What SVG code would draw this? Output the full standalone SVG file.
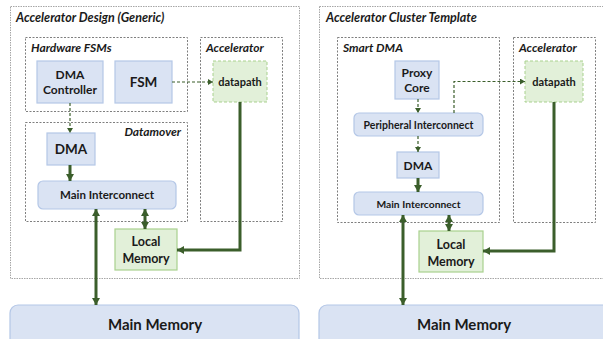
<svg xmlns="http://www.w3.org/2000/svg" width="603" height="339" viewBox="0 0 603 339">
<style>
.outer{fill:none;stroke:#a6a6a6;stroke-width:1;stroke-dasharray:1.5 1}
.grp{fill:none;stroke:#7f7f7f;stroke-width:1;stroke-dasharray:2 1.5}
.blue{fill:#dae3f3;stroke:#b4c7e7;stroke-width:1.2}
.green{fill:#e2f0d9;stroke:#a9d18e;stroke-width:1.2}
.greend{fill:#e2f0d9;stroke:#a9d18e;stroke-width:1;stroke-dasharray:3 2}
.t{font-family:Lato,"Liberation Sans",sans-serif;font-weight:bold;fill:#1a1a1a;text-anchor:middle}
.ti{font-family:Lato,"Liberation Sans",sans-serif;font-weight:bold;font-style:italic;fill:#1a1a1a}
.solid{fill:none;stroke:#3b5e2b;stroke-width:3}
.dash{fill:none;stroke:#3b5e2b;stroke-width:1.2;stroke-dasharray:3 2}
</style>
<defs>
<marker id="ah" markerUnits="userSpaceOnUse" markerWidth="9" markerHeight="9" refX="7" refY="4.5" orient="auto-start-reverse"><path d="M0,0.5 L7,4.5 L0,8.5 Z" fill="#3b5e2b"/></marker>
<marker id="ahs" markerUnits="userSpaceOnUse" markerWidth="6" markerHeight="6" refX="5" refY="3" orient="auto"><path d="M0,0 L5,3 L0,6 Z" fill="#3b5e2b"/></marker>
</defs>

<g id="left-panel">
<rect class="outer" x="10.5" y="6.5" width="289" height="272"/>
<text class="ti" x="16" y="22" font-size="12.5">Accelerator Design (Generic)</text>
</g>
<g id="hw-fsms">
<rect class="grp" x="25.5" y="37.5" width="162" height="74"/>
<text class="ti" x="31" y="52" font-size="12">Hardware FSMs</text>
</g>
<g id="left-accelerator">
<rect class="grp" x="200.5" y="37.5" width="82" height="184"/>
<text class="ti" x="206" y="52" font-size="12">Accelerator</text>
</g>
<g id="datamover">
<rect class="grp" x="25.5" y="122.5" width="162" height="99"/>
<text class="ti" x="181" y="136" font-size="12" text-anchor="end">Datamover</text>
</g>
<g id="dma-controller">
<rect class="blue" x="37" y="61" width="66" height="42"/>
<text class="t" x="70" y="79" font-size="12">DMA</text>
<text class="t" x="70" y="94" font-size="12">Controller</text>
</g>
<g id="fsm">
<rect class="blue" x="115" y="61" width="57" height="42"/>
<text class="t" x="143.5" y="87" font-size="13.5">FSM</text>
</g>
<g id="left-datapath">
<rect class="greend" x="213" y="61" width="54" height="41"/>
<text class="t" x="240" y="86" font-size="11">datapath</text>
</g>
<g id="left-dma">
<rect class="blue" x="47" y="133" width="48" height="32"/>
<text class="t" x="71" y="154" font-size="13.5">DMA</text>
</g>
<g id="left-main-interconnect">
<rect class="blue" x="38" y="181" width="138" height="28" rx="5"/>
<text class="t" x="107" y="199" font-size="11.5">Main Interconnect</text>
</g>
<g id="left-local-memory">
<rect class="green" x="115" y="229" width="62" height="41"/>
<text class="t" x="146" y="246" font-size="12.5">Local</text>
<text class="t" x="146" y="263" font-size="12.5">Memory</text>
</g>
<g id="left-main-memory">
<rect class="blue" x="10" y="305" width="289" height="50" rx="8"/>
<text class="t" x="155" y="330" font-size="15">Main Memory</text>
</g>

<g id="right-panel">
<rect class="outer" x="319.5" y="6.5" width="290" height="272"/>
<text class="ti" x="326" y="22" font-size="12.5">Accelerator Cluster Template</text>
</g>
<g id="smart-dma">
<rect class="grp" x="337.5" y="37.5" width="162" height="185"/>
<text class="ti" x="343" y="52" font-size="12">Smart DMA</text>
</g>
<g id="right-accelerator">
<rect class="grp" x="513.5" y="37.5" width="82" height="185"/>
<text class="ti" x="519" y="52" font-size="12">Accelerator</text>
</g>
<g id="proxy-core">
<rect class="blue" x="395" y="61" width="44" height="38"/>
<text class="t" x="417" y="77" font-size="12">Proxy</text>
<text class="t" x="417" y="92" font-size="12">Core</text>
</g>
<g id="right-datapath">
<rect class="greend" x="525" y="61" width="58" height="41"/>
<text class="t" x="554" y="86" font-size="11">datapath</text>
</g>
<g id="peripheral-interconnect">
<rect class="blue" x="354" y="113" width="129" height="23" rx="5"/>
<text class="t" x="418.5" y="128.5" font-size="10.5">Peripheral Interconnect</text>
</g>
<g id="right-dma">
<rect class="blue" x="397" y="152" width="42" height="26"/>
<text class="t" x="418" y="169.5" font-size="12">DMA</text>
</g>
<g id="right-main-interconnect">
<rect class="blue" x="354" y="192" width="129" height="23" rx="5"/>
<text class="t" x="418.5" y="207.5" font-size="10.3">Main Interconnect</text>
</g>
<g id="right-local-memory">
<rect class="green" x="419" y="231" width="64" height="41"/>
<text class="t" x="451" y="249" font-size="12.5">Local</text>
<text class="t" x="451" y="266" font-size="12.5">Memory</text>
</g>
<g id="right-main-memory">
<rect class="blue" x="319" y="305" width="295" height="50" rx="8"/>
<text class="t" x="464" y="330" font-size="15">Main Memory</text>
</g>

<g id="connectors">
<path class="dash" d="M172,82 H213" marker-end="url(#ahs)"/>
<path class="dash" d="M70,103 V133" marker-end="url(#ahs)"/>
<path class="solid" d="M70,165 V181" marker-end="url(#ah)"/>
<path class="solid" d="M145,209 V229" marker-start="url(#ah)" marker-end="url(#ah)"/>
<path class="solid" d="M240,102 V250 H177" marker-end="url(#ah)"/>
<path class="solid" d="M96,209 V305" marker-start="url(#ah)" marker-end="url(#ah)"/>

<path class="dash" d="M418,99 V113" marker-end="url(#ahs)"/>
<path class="dash" d="M454,113 V81.5 H525" marker-end="url(#ahs)"/>
<path class="dash" d="M418,136 V152" marker-end="url(#ahs)"/>
<path class="solid" d="M418,178 V192" marker-end="url(#ah)"/>
<path class="solid" d="M449,215 V231" marker-start="url(#ah)" marker-end="url(#ah)"/>
<path class="solid" d="M554,102 V251 H483" marker-end="url(#ah)"/>
<path class="solid" d="M403,215 V305" marker-start="url(#ah)" marker-end="url(#ah)"/>
</g>
</svg>
